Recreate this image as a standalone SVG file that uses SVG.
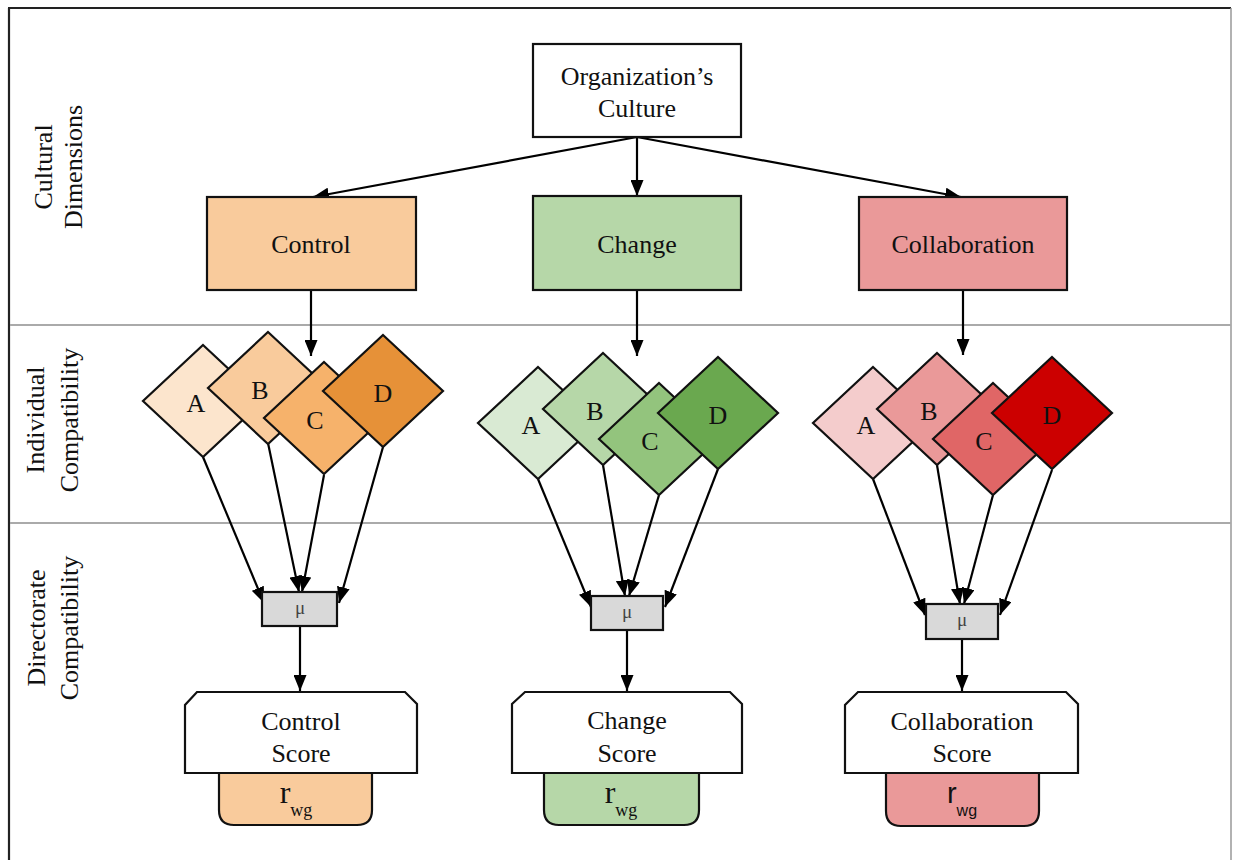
<svg xmlns="http://www.w3.org/2000/svg" width="1233" height="860" viewBox="0 0 1233 860">
<defs>
<marker id="arr" markerUnits="userSpaceOnUse" markerWidth="16" markerHeight="13" refX="16" refY="6.5" orient="auto">
<path d="M0,0 L16,6.5 L0,13 Z" fill="#000"/>
</marker>
<style>
.t{font-family:"Liberation Serif","Times New Roman",serif;font-size:26px;fill:#111;text-anchor:middle}
.box{stroke:#111;stroke-width:2.2}
.dm{stroke:#111;stroke-width:2.2}
.mu{fill:#d9d9d9;stroke:#111;stroke-width:2.2}
.mut{font-family:"Liberation Serif","Times New Roman",serif;font-size:19px;fill:#444;text-anchor:middle}
.c{stroke:#000;stroke-width:2.2;fill:none;marker-end:url(#arr)}
.sep{stroke:#aaa;stroke-width:2}
.sc{fill:#fff;stroke:#111;stroke-width:2.2}
.tab{stroke:#111;stroke-width:2.2}
.rw{font-family:"Liberation Serif","Times New Roman",serif;fill:#111;text-anchor:middle}
</style>
</defs>
<rect x="0" y="0" width="1233" height="860" fill="#fff"/>
<g id="frame">
<line x1="9" y1="8" x2="9" y2="860" stroke="#222" stroke-width="2.2"/>
<line x1="8" y1="8" x2="1231" y2="8" stroke="#222" stroke-width="2"/>
<line x1="1231" y1="8" x2="1231" y2="860" stroke="#999" stroke-width="1.5"/>
<line class="sep" x1="10" y1="325" x2="1231" y2="325"/>
<line class="sep" x1="10" y1="523" x2="1231" y2="523"/>
</g>
<g id="labels">
<text class="t" transform="translate(52,167) rotate(-90)">Cultural</text>
<text class="t" transform="translate(82,167) rotate(-90)">Dimensions</text>
<text class="t" transform="translate(44,420) rotate(-90)">Individual</text>
<text class="t" transform="translate(78,420) rotate(-90)">Compatibility</text>
<text class="t" transform="translate(45,628) rotate(-90)">Directorate</text>
<text class="t" transform="translate(78,628) rotate(-90)">Compatibility</text>
</g>
<g id="connectors">
<line class="c" x1="637" y1="137" x2="313" y2="197"/>
<line class="c" x1="637" y1="137" x2="637" y2="196"/>
<line class="c" x1="637" y1="137" x2="961" y2="197"/>
<line class="c" x1="311" y1="290" x2="311" y2="356"/>
<line class="c" x1="637" y1="290" x2="637" y2="356"/>
<line class="c" x1="963" y1="290" x2="963" y2="355"/>
<line class="c" x1="203" y1="457" x2="264" y2="603"/>
<line class="c" x1="268" y1="443" x2="299" y2="592"/>
<line class="c" x1="324" y1="475" x2="302" y2="592"/>
<line class="c" x1="383" y1="447" x2="339" y2="603"/>
<line class="c" x1="538" y1="479" x2="591" y2="607"/>
<line class="c" x1="603" y1="465" x2="625" y2="596"/>
<line class="c" x1="659" y1="495" x2="629" y2="596"/>
<line class="c" x1="718" y1="469" x2="665" y2="607"/>
<line class="c" x1="873" y1="479" x2="925" y2="615"/>
<line class="c" x1="937" y1="465" x2="960" y2="604"/>
<line class="c" x1="993" y1="495" x2="964" y2="604"/>
<line class="c" x1="1052" y1="470" x2="1000" y2="615"/>
<line class="c" x1="300" y1="626" x2="300" y2="691"/>
<line class="c" x1="627" y1="630" x2="627" y2="691"/>
<line class="c" x1="962" y1="639" x2="962" y2="691"/>
</g>
<g id="culture">
<rect class="box" x="533" y="44" width="208" height="93" fill="#fff"/>
<text class="t" x="637" y="85">Organization’s</text>
<text class="t" x="637" y="117">Culture</text>
</g>
<g id="control">
<rect class="box" x="207" y="197" width="209" height="93" fill="#f9cb9c"/>
<text class="t" x="311" y="253">Control</text>
</g>
<g id="change">
<rect class="box" x="533" y="196" width="208" height="94" fill="#b6d7a8"/>
<text class="t" x="637" y="253">Change</text>
</g>
<g id="collaboration">
<rect class="box" x="859" y="197" width="208" height="93" fill="#ea9999"/>
<text class="t" x="963" y="253">Collaboration</text>
</g>
<g id="control-diamonds">
<polygon class="dm" fill="#fce5cd" points="203,345 263,401 203,457 143,401"/>
<text class="t" x="196" y="412">A</text>
<polygon class="dm" fill="#f9cb9c" points="268,332 328,388 268,444 208,388"/>
<text class="t" x="260" y="399">B</text>
<polygon class="dm" fill="#f6b26b" points="324,362 384,418 324,474 264,418"/>
<text class="t" x="315" y="429">C</text>
<polygon class="dm" fill="#e69138" points="383,335 443,391 383,447 323,391"/>
<text class="t" x="383" y="402">D</text>
</g>
<g id="change-diamonds">
<polygon class="dm" fill="#d9ead3" points="538,367 598,423 538,479 478,423"/>
<text class="t" x="531" y="434">A</text>
<polygon class="dm" fill="#b6d7a8" points="603,353 663,409 603,465 543,409"/>
<text class="t" x="595" y="420">B</text>
<polygon class="dm" fill="#93c47d" points="659,383 719,439 659,495 599,439"/>
<text class="t" x="650" y="450">C</text>
<polygon class="dm" fill="#6aa84f" points="718,357 778,413 718,469 658,413"/>
<text class="t" x="718" y="424">D</text>
</g>
<g id="collaboration-diamonds">
<polygon class="dm" fill="#f4cccc" points="873,367 933,423 873,479 813,423"/>
<text class="t" x="866" y="434">A</text>
<polygon class="dm" fill="#ea9999" points="937,353 997,409 937,465 877,409"/>
<text class="t" x="929" y="420">B</text>
<polygon class="dm" fill="#e06666" points="993,383 1053,439 993,495 933,439"/>
<text class="t" x="984" y="450">C</text>
<polygon class="dm" fill="#cc0000" points="1052,357 1112,413 1052,469 992,413"/>
<text class="t" x="1052" y="424">D</text>
</g>
<g id="control-mean">
<rect class="mu" x="262" y="592" width="75" height="34"/>
<text class="mut" x="300" y="614">μ</text>
</g>
<g id="change-mean">
<rect class="mu" x="591" y="596" width="72" height="34"/>
<text class="mut" x="627" y="618">μ</text>
</g>
<g id="collaboration-mean">
<rect class="mu" x="926" y="604" width="72" height="35"/>
<text class="mut" x="962" y="626">μ</text>
</g>
<g id="control-score">
<path class="tab" fill="#f9cb9c" d="M219,773 L219,810 Q219,825 234,825 L357,825 Q372,825 372,810 L372,773 Z"/>
<path class="sc" d="M197,692 L405,692 L417,704 L417,773 L185,773 L185,705 Z"/>
<text class="t" x="301" y="730">Control</text>
<text class="t" x="301" y="762">Score</text>
<text class="rw" x="296" y="803" font-size="32">r<tspan dy="13" font-size="18">wg</tspan></text>
</g>
<g id="change-score">
<path class="tab" fill="#b6d7a8" d="M544,773 L544,810 Q544,825 559,825 L684,825 Q699,825 699,810 L699,773 Z"/>
<path class="sc" d="M525,692 L730,692 L742,704 L742,773 L512,773 L512,704 Z"/>
<text class="t" x="627" y="729">Change</text>
<text class="t" x="627" y="762">Score</text>
<text class="rw" x="621" y="803" font-size="32">r<tspan dy="13" font-size="18">wg</tspan></text>
</g>
<g id="collaboration-score">
<path class="tab" fill="#ea9999" d="M886,773 L886,811 Q886,826 901,826 L1024,826 Q1039,826 1039,811 L1039,773 Z"/>
<path class="sc" d="M858,692 L1066,692 L1078,704 L1078,773 L845,773 L845,705 Z"/>
<text class="t" x="962" y="730">Collaboration</text>
<text class="t" x="962" y="762">Score</text>
<text class="rw" x="962" y="803" font-size="29" style="font-family:'Liberation Sans',Arial,sans-serif">r<tspan dy="13" font-size="16">wg</tspan></text>
</g>
</svg>
